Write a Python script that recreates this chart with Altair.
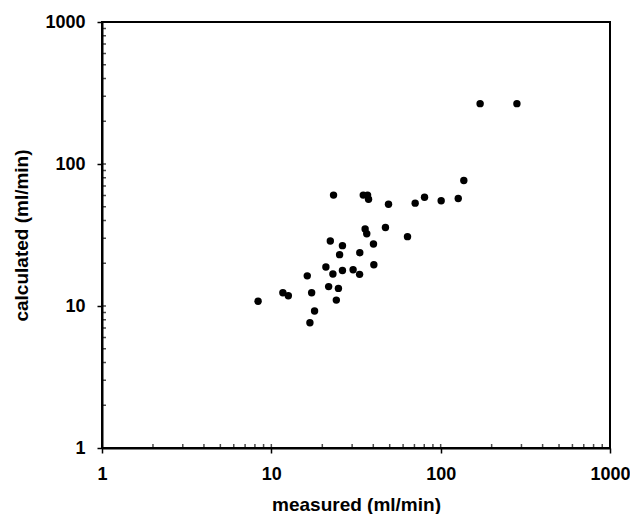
import altair as alt
import pandas as pd

measured = [171, 282, 137, 23.3, 34.9, 37.0, 37.5, 49.2, 70.7, 80.3, 100.7, 127,
            35.8, 36.6, 47.2, 63.7, 22.3, 26.3, 40.1, 25.3, 33.3, 21.0, 23.1, 26.3,
            30.4, 33.2, 40.3, 16.3, 11.7, 12.6, 17.3, 21.8, 24.9, 24.2, 8.35, 18.0, 16.9]
calculated = [266, 266, 76.6, 60.4, 60.4, 60.4, 56.5, 52.1, 53.0, 58.3, 55.1, 57.2,
              34.9, 32.3, 35.7, 30.8, 28.7, 26.6, 27.3, 23.0, 23.7, 18.8, 16.8, 17.8,
              18.0, 16.7, 19.5, 16.3, 12.4, 11.8, 12.4, 13.7, 13.3, 11.0, 10.8, 9.22, 7.62]

major_ticks = [1, 10, 100, 1000]
minor_ticks = [1, 2, 3, 4, 5, 6, 7, 8, 9, 10, 20, 30, 40, 50, 60, 70, 80, 90,
               100, 200, 300, 400, 500, 600, 700, 800, 900, 1000]

df = pd.DataFrame({"measured": measured, "calculated": calculated})
ticks_df = pd.DataFrame({"measured": minor_ticks, "calculated": minor_ticks})

W, H = 508, 426
FONT = "Liberation Sans"
TL = 4  # minor tick length

xscale = alt.Scale(type="log", domain=[1, 1000], nice=False)
yscale = alt.Scale(type="log", domain=[1, 1000], nice=False)

xaxis = alt.Axis(values=major_ticks, format="d", title="measured (ml/min)",
                 orient="bottom", tickSize=5, labelPadding=12,
                 titlePadding=12, grid=False)
yaxis = alt.Axis(values=major_ticks, format="d", title="calculated (ml/min)",
                 orient="left", tickSize=5, labelPadding=12,
                 titlePadding=13, grid=False)

points = alt.Chart(df).mark_circle(size=55, color="black", opacity=1).encode(
    x=alt.X("measured:Q", scale=xscale, axis=xaxis),
    y=alt.Y("calculated:Q", scale=yscale, axis=yaxis),
)

xminor = alt.Chart(ticks_df).mark_tick(color="black", thickness=1.5, size=TL).encode(
    x=alt.X("measured:Q", scale=xscale, axis=xaxis),
    y=alt.value(H - TL / 2),
)

yminor = alt.Chart(ticks_df).mark_tick(color="black", thickness=1.5, size=TL).encode(
    y=alt.Y("calculated:Q", scale=yscale, axis=yaxis),
    x=alt.value(TL / 2),
)

chart = alt.layer(points, xminor, yminor).properties(
    width=W, height=H,
    autosize=alt.AutoSizeParams(type="none"),
    padding={"left": 94, "top": 14, "right": 20, "bottom": 66},
).configure_view(
    stroke="black", strokeWidth=2
).configure_axis(
    domainColor="black", domainWidth=2, tickColor="black", tickWidth=1.5,
    labelFont=FONT, labelFontSize=18, labelFontWeight="bold", labelColor="black",
    titleFont=FONT, titleFontSize=19, titleFontWeight="bold", titleColor="black",
    labelFlush=False,
)

chart.save("out.html", embed_options={"renderer": "svg", "actions": False})
